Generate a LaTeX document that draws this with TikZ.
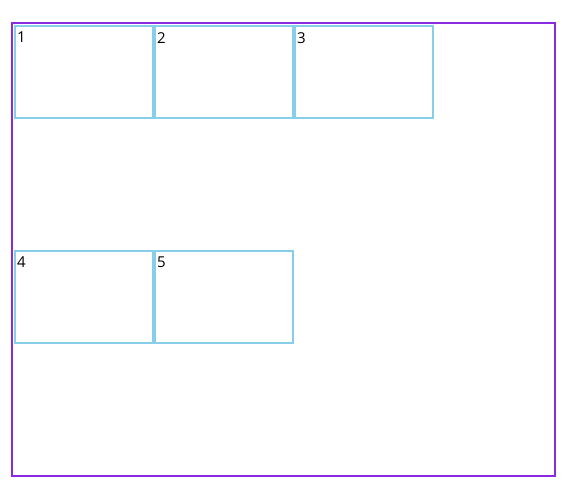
\documentclass[tikz,border=0pt]{standalone}
\usepackage{fontspec}
\setmainfont{Open Sans}
\usepackage{tikz}
\usetikzlibrary{positioning}
\usepackage{xcolor}
\definecolor{cellblue}{HTML}{87CEEB}
\definecolor{framepurple}{HTML}{8A2BE2}

\begin{document}
\begin{tikzpicture}[
		x=1pt, y=-1pt,
		% Style definitions
		container/.style={draw=framepurple, line width=2pt, minimum width=543pt, minimum height=453pt, inner sep=0pt},
		cell/.style={draw=cellblue, line width=2pt, minimum width=138pt, minimum height=92pt, inner sep=0pt},
		cellnum/.style={font=\fontsize{15}{18}\selectfont, inner sep=0pt, anchor=north west},
		% No gap between cells
		node distance=0pt,
		]
		\useasboundingbox (0,0) rectangle (571,494);

		% === Outer container ===
		\node[container] (frame) at (283.5,249.5) {};

		% === ROW 1: three cells ===
		\node[cell] (c1) at (84,72) {};
		\node[cell, right=of c1] (c2) {};
		\node[cell, right=of c2] (c3) {};

		% === ROW 2: two cells, wrapped below ===
		\node[cell, below=131pt of c1] (c4) {};
		\node[cell, right=of c4] (c5) {};

		% === Numbers in the top-left corners ===
		\foreach \i in {1,...,5}
			\node[cellnum] (n\i) at ([shift={(3,7)}]c\i.north west) {\i};

	\end{tikzpicture}
\end{document}
